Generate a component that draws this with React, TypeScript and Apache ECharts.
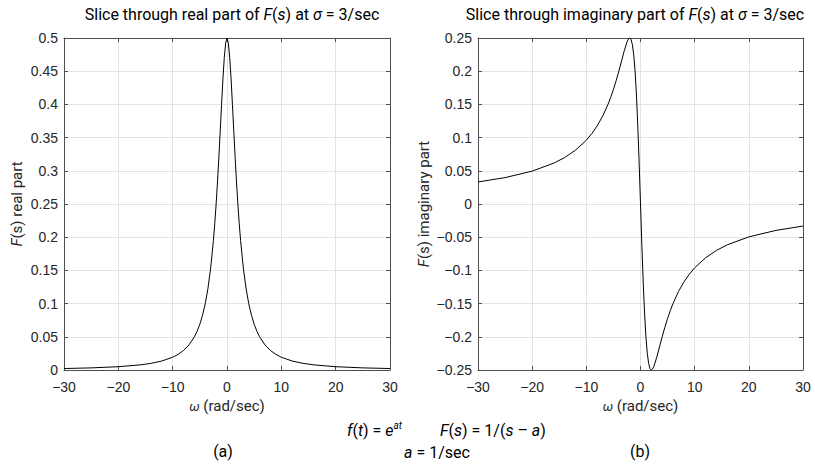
import React, { useEffect, useRef } from "react";
import * as echarts from "echarts";

const omega = [
  -30, -25, -20, -16, -14, -12, -10, -9, -8, -7, -6, -5.5, -5, -4.5, -4, -3.5, -3, -2.5, -2.25, -2, -1.75, -1.5, -1.25, -1, -0.75, -0.5, -0.25,
  0,
  0.25, 0.5, 0.75, 1, 1.25, 1.5, 1.75, 2, 2.25, 2.5, 3, 3.5, 4, 4.5, 5, 5.5, 6, 7, 8, 9, 10, 12, 14, 16, 20, 25, 30,
];

const realPart = [
  0.00221, 0.00318, 0.00495, 0.00769, 0.01, 0.01351, 0.01923, 0.02353, 0.02941, 0.03774, 0.05, 0.05839, 0.06897, 0.08247, 0.1, 0.12308, 0.15385, 0.19512, 0.22069, 0.25, 0.28319, 0.32, 0.35955, 0.4, 0.43836, 0.47059, 0.49231,
  0.5,
  0.49231, 0.47059, 0.43836, 0.4, 0.35955, 0.32, 0.28319, 0.25, 0.22069, 0.19512, 0.15385, 0.12308, 0.1, 0.08247, 0.06897, 0.05839, 0.05, 0.03774, 0.02941, 0.02353, 0.01923, 0.01351, 0.01, 0.00769, 0.00495, 0.00318, 0.00221,
];

const imagPart = [
  0.03319, 0.03975, 0.0495, 0.06154, 0.07, 0.08108, 0.09615, 0.10588, 0.11765, 0.13208, 0.15, 0.16058, 0.17241, 0.18557, 0.2, 0.21538, 0.23077, 0.2439, 0.24828, 0.25, 0.24779, 0.24, 0.22472, 0.2, 0.16438, 0.11765, 0.06154,
  0,
  -0.06154, -0.11765, -0.16438, -0.2, -0.22472, -0.24, -0.24779, -0.25, -0.24828, -0.2439, -0.23077, -0.21538, -0.2, -0.18557, -0.17241, -0.16058, -0.15, -0.13208, -0.11765, -0.10588, -0.09615, -0.08108, -0.07, -0.06154, -0.0495, -0.03975, -0.03319,
];

const xRange = [-30, 30];
const xStep = 10;
const realRange = [0, 0.5];
const imagRange = [-0.25, 0.25];
const yStep = 0.05;

const SANS = "Roboto, 'Noto Sans', sans-serif";
const TICKF = "'Liberation Sans', Arial, sans-serif";
const AXC = "#4d4d4d";
const TXC = "#262626";

const fmt = (v: number) => {
  const s = String(Math.round(v * 1000) / 1000);
  return v < 0 ? "\u2212" + s.slice(1) : s;
};

function xAxes(gridIndex: number) {
  const base = {
    type: "value",
    gridIndex,
    min: xRange[0],
    max: xRange[1],
    interval: xStep,
    axisLine: { show: true, onZero: false, lineStyle: { color: AXC, width: 1 } },
    axisTick: { show: true, inside: true, length: 4, lineStyle: { color: AXC } },
  };
  return [
    {
      ...base,
      position: "bottom",
      splitLine: { show: true, lineStyle: { color: "#e3e3e3", width: 1 } },
      axisLabel: { formatter: fmt, color: TXC, fontFamily: TICKF, fontSize: 14, margin: 10 },
      name: "{i|\u03c9} (rad/sec)",
      nameLocation: "middle",
      nameGap: 28,
      nameTextStyle: {
        fontFamily: SANS,
        fontSize: 15,
        color: TXC,
        rich: { i: { fontStyle: "italic", fontFamily: SANS, fontSize: 13, color: TXC } },
      },
    },
    {
      ...base,
      position: "top",
      splitLine: { show: false },
      axisLabel: { show: false },
    },
  ];
}

function yAxes(gridIndex: number, range: number[], name: string, gap: number) {
  const base = {
    type: "value",
    gridIndex,
    min: range[0],
    max: range[1],
    interval: yStep,
    axisLine: { show: true, onZero: false, lineStyle: { color: AXC, width: 1 } },
    axisTick: { show: true, inside: true, length: 4, lineStyle: { color: AXC } },
  };
  return [
    {
      ...base,
      position: "left",
      splitLine: { show: true, lineStyle: { color: "#e3e3e3", width: 1 } },
      axisLabel: { formatter: fmt, color: TXC, fontFamily: TICKF, fontSize: 14, margin: 6 },
      name,
      nameLocation: "middle",
      nameGap: gap,
      nameRotate: 90,
      nameTextStyle: {
        fontFamily: SANS,
        fontSize: 15,
        color: TXC,
        rich: { i: { fontStyle: "italic", fontFamily: SANS, fontSize: 15, color: TXC } },
      },
    },
    {
      ...base,
      position: "right",
      splitLine: { show: false },
      axisLabel: { show: false },
    },
  ];
}

export default function App() {
  const ref = useRef<HTMLDivElement>(null);
  useEffect(() => {
    if (!ref.current) return;
    const chart = echarts.init(ref.current, undefined, { renderer: "svg" });
    const richT = {
      i: { fontStyle: "italic", fontFamily: SANS, fontSize: 16, fill: "#000" },
      n: { fontFamily: SANS, fontSize: 16, fill: "#000" },
    };
    const richB = {
      i: { fontStyle: "italic", fontFamily: SANS, fontSize: 16, fill: "#000", lineHeight: 20 },
      n: { fontFamily: SANS, fontSize: 16, fill: "#000", lineHeight: 20 },
      sup: { fontStyle: "italic", fontFamily: SANS, fontSize: 10, fill: "#000", verticalAlign: "top" },
    };
    const option = {
      animation: false,
      backgroundColor: "#ffffff",
      grid: [
        { left: 64, right: 425, top: 38, bottom: 96 },
        { left: 478, right: 12, top: 38, bottom: 96 },
      ],
      xAxis: [...xAxes(0), ...xAxes(1)],
      yAxis: [
        ...yAxes(0, realRange, "{i|F}(s) real part", 40),
        ...yAxes(1, imagRange, "{i|F}(s) imaginary part", 47),
      ],
      series: [
        {
          type: "line",
          xAxisIndex: 0,
          yAxisIndex: 0,
          data: omega.map((w, k) => [w, realPart[k]]),
          showSymbol: false,
          lineStyle: { color: "#000", width: 1 },
        },
        {
          type: "line",
          xAxisIndex: 2,
          yAxisIndex: 2,
          data: omega.map((w, k) => [w, imagPart[k]]),
          showSymbol: false,
          lineStyle: { color: "#000", width: 1 },
        },
      ],
      graphic: [
        {
          type: "text",
          x: 232,
          y: 14,
          style: {
            text: "{n|Slice through real part of }{i|F}{n|(}{i|s}{n|) at }{i|\u03c3}{n| = 3/sec}",
            rich: richT,
            align: "center",
            verticalAlign: "middle",
          },
        },
        {
          type: "text",
          x: 635,
          y: 14,
          style: {
            text: "{n|Slice through imaginary part of }{i|F}{n|(}{i|s}{n|) at }{i|\u03c3}{n| = 3/sec}",
            rich: richT,
            align: "center",
            verticalAlign: "middle",
          },
        },
        {
          type: "text",
          x: 347,
          y: 430,
          style: {
            text: "{i|f}{n|(}{i|t}{n|) = }{i|e}{sup|at}",
            rich: richB,
            align: "left",
            verticalAlign: "middle",
          },
        },
        {
          type: "text",
          x: 440,
          y: 430,
          style: {
            text: "{i|F}{n|(}{i|s}{n|) = 1/(}{i|s}{n| \u2013 }{i|a}{n|)}",
            rich: richB,
            align: "left",
            verticalAlign: "middle",
          },
        },
        {
          type: "text",
          x: 437,
          y: 452,
          style: {
            text: "{i|a}{n| = 1/sec}",
            rich: richB,
            align: "center",
            verticalAlign: "middle",
          },
        },
        {
          type: "text",
          x: 223,
          y: 451,
          style: { text: "(a)", font: "16px " + SANS, fill: "#000", align: "center", verticalAlign: "middle" },
        },
        {
          type: "text",
          x: 640,
          y: 451,
          style: { text: "(b)", font: "16px " + SANS, fill: "#000", align: "center", verticalAlign: "middle" },
        },
      ],
    };
    chart.setOption(option as any);
    return () => chart.dispose();
  }, []);
  return (
    <div
      ref={ref}
      style={{ position: "fixed", left: 0, top: 0, width: 815, height: 466, background: "#fff" }}
    />
  );
}
